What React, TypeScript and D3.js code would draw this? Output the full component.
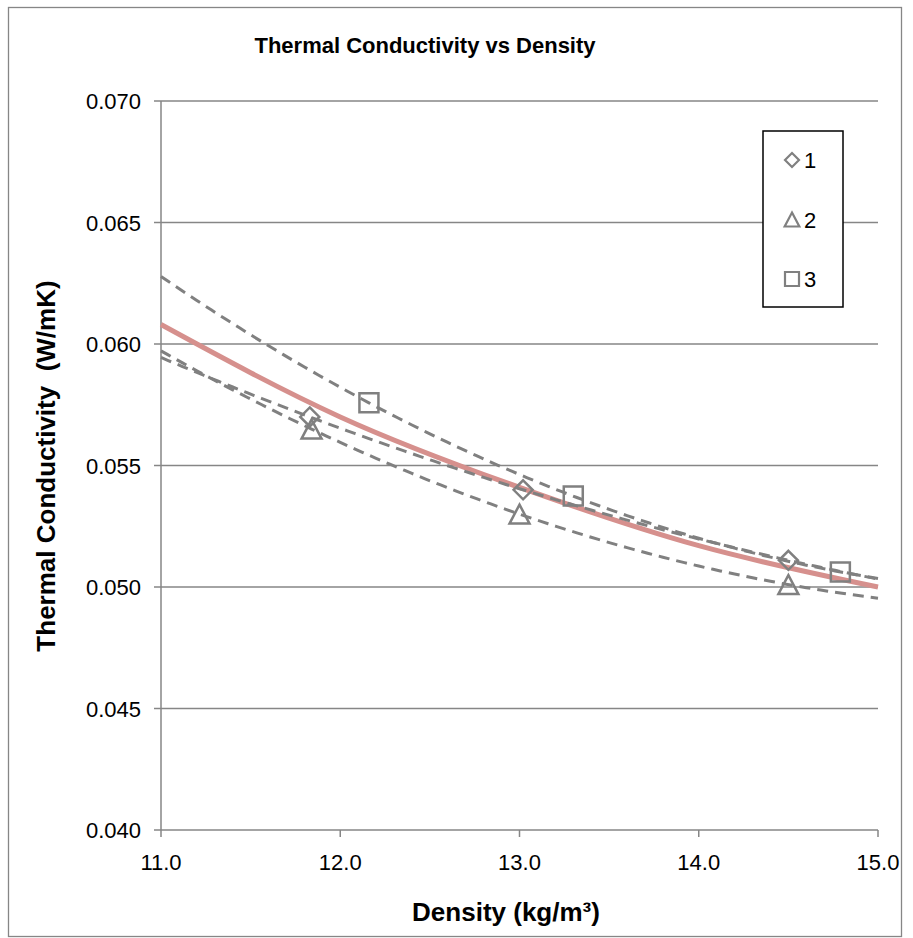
import React from 'react';
import * as d3 from 'd3';

// Data
const seriesNames = ['1', '2', '3'];
const series1X = [11.83, 13.02, 14.5];
const series1Y = [0.057, 0.054, 0.0511];
const series2X = [11.84, 13.0, 14.5];
const series2Y = [0.0565, 0.053, 0.0501];
const series3X = [12.16, 13.3, 14.79];
const series3Y = [0.05758, 0.05374, 0.05062];
// overall fit curve (pink)
const overallX = [11, 12, 13, 14, 15];
const overallY = [0.0608, 0.0570, 0.0541, 0.0517, 0.0500];
const xTicks = [11, 12, 13, 14, 15];
const yTicks = [0.04, 0.045, 0.05, 0.055, 0.06, 0.065, 0.07];

const W = 913;
const H = 938;
const plot = { left: 161, right: 878, top: 101, bottom: 830 };

function polyFit2(xs: number[], ys: number[]) {
  // least squares y = a + b x + c x^2
  const n = xs.length;
  let s1 = 0, s2 = 0, s3 = 0, s4 = 0, t0 = 0, t1 = 0, t2 = 0;
  for (let i = 0; i < n; i++) {
    const x = xs[i], y = ys[i];
    s1 += x; s2 += x * x; s3 += x * x * x; s4 += x * x * x * x;
    t0 += y; t1 += x * y; t2 += x * x * y;
  }
  const A = [
    [n, s1, s2, t0],
    [s1, s2, s3, t1],
    [s2, s3, s4, t2],
  ];
  for (let i = 0; i < 3; i++) {
    let p = i;
    for (let r = i + 1; r < 3; r++) if (Math.abs(A[r][i]) > Math.abs(A[p][i])) p = r;
    [A[i], A[p]] = [A[p], A[i]];
    for (let r = 0; r < 3; r++) {
      if (r === i) continue;
      const f = A[r][i] / A[i][i];
      for (let c = i; c < 4; c++) A[r][c] -= f * A[i][c];
    }
  }
  const a = A[0][3] / A[0][0], b = A[1][3] / A[1][1], c = A[2][3] / A[2][2];
  return (x: number) => a + b * x + c * x * x;
}

export default function App() {
  const x = d3.scaleLinear().domain([11, 15]).range([plot.left, plot.right]);
  const y = d3.scaleLinear().domain([0.04, 0.07]).range([plot.bottom, plot.top]);

  const sample = d3.range(0, 101).map((i) => 11 + (4 * i) / 100);
  const line = d3
    .line<[number, number]>()
    .x((d) => x(d[0]))
    .y((d) => y(d[1]));
  const smooth = d3
    .line<[number, number]>()
    .x((d) => x(d[0]))
    .y((d) => y(d[1]))
    .curve(d3.curveNatural);

  const fits = [
    polyFit2(series1X, series1Y),
    polyFit2(series2X, series2Y),
    polyFit2(series3X, series3Y),
  ];

  const gray = '#808080';
  const grid = '#868686';
  const font = 'Liberation Sans, Arial, sans-serif';

  const diamond = (r: number) => `M0,${-r}L${r},0L0,${r}L${-r},0Z`;
  const triangle = (r: number) => `M0,${-r}L${r * 1.05},${r}L${-r * 1.05},${r}Z`;
  const square = (r: number) => `M${-r},${-r}H${r}V${r}H${-r}Z`;
  const shapes = [diamond, triangle, square];
  const seriesXs = [series1X, series2X, series3X];
  const seriesYs = [series1Y, series2Y, series3Y];

  return (
    <svg width={W} height={H} style={{ position: 'absolute', left: 0, top: 0, background: '#fff' }}>
      <rect x={0} y={0} width={W} height={H} fill="#fff" />
      <rect x={8.5} y={7.5} width={893} height={929} fill="none" stroke={grid} strokeWidth={1.3} />
      <text x={425} y={53} textAnchor="middle" fontFamily={font} fontWeight="bold" fontSize={22}>
        Thermal Conductivity vs Density
      </text>

      {yTicks.map((t) => (
        <g key={t}>
          <line x1={plot.left} x2={plot.right} y1={y(t)} y2={y(t)} stroke={grid} strokeWidth={1.5} />
          <line x1={plot.left - 7} x2={plot.left} y1={y(t)} y2={y(t)} stroke={grid} strokeWidth={1.5} />
          <text x={141} y={y(t) + 8} textAnchor="end" fontFamily={font} fontSize={22}>
            {d3.format('.3f')(t)}
          </text>
        </g>
      ))}
      <line x1={plot.left} x2={plot.left} y1={plot.top} y2={plot.bottom} stroke={grid} strokeWidth={1.5} />
      {xTicks.map((t) => (
        <g key={t}>
          <line x1={x(t)} x2={x(t)} y1={plot.bottom} y2={plot.bottom + 7} stroke={grid} strokeWidth={1.5} />
          <text x={x(t)} y={870} textAnchor="middle" fontFamily={font} fontSize={22}>
            {d3.format('.1f')(t)}
          </text>
        </g>
      ))}

      <text
        transform={`translate(55,466) rotate(-90)`}
        textAnchor="middle"
        fontFamily={font}
        fontWeight="bold"
        fontSize={26}
      >
        Thermal Conductivity{'\u00a0\u00a0'}(W/mK)
      </text>
      <text x={506} y={921} textAnchor="middle" fontFamily={font} fontWeight="bold" fontSize={26}>
        Density (kg/m³)
      </text>

      <path
        d={smooth(overallX.map((v, i) => [v, overallY[i]]) as [number, number][]) || ''}
        fill="none"
        stroke="#D6908D"
        strokeWidth={5}
      />
      {fits.map((f, i) => (
        <path
          key={i}
          d={line(sample.map((s) => [s, f(s)]) as [number, number][]) || ''}
          fill="none"
          stroke={gray}
          strokeWidth={3}
          strokeDasharray="11,7"
        />
      ))}
      {seriesXs.map((xs, si) =>
        xs.map((xv, j) => (
          <path
            key={`${si}-${j}`}
            d={shapes[si](9.5)}
            transform={`translate(${x(xv)},${y(seriesYs[si][j])})`}
            fill="none"
            stroke={gray}
            strokeWidth={2.5}
          />
        ))
      )}

      <rect x={763} y={131} width={80} height={176} fill="#fff" stroke="#000" strokeWidth={1.5} />
      {seriesNames.map((nm, i) => {
        const cy = 160 + i * 59.5;
        return (
          <g key={nm}>
            <path d={shapes[i](7)} transform={`translate(792,${cy})`} fill="none" stroke={gray} strokeWidth={2.2} />
            <text x={804} y={cy + 8} fontFamily={font} fontSize={22}>
              {nm}
            </text>
          </g>
        );
      })}
    </svg>
  );
}
